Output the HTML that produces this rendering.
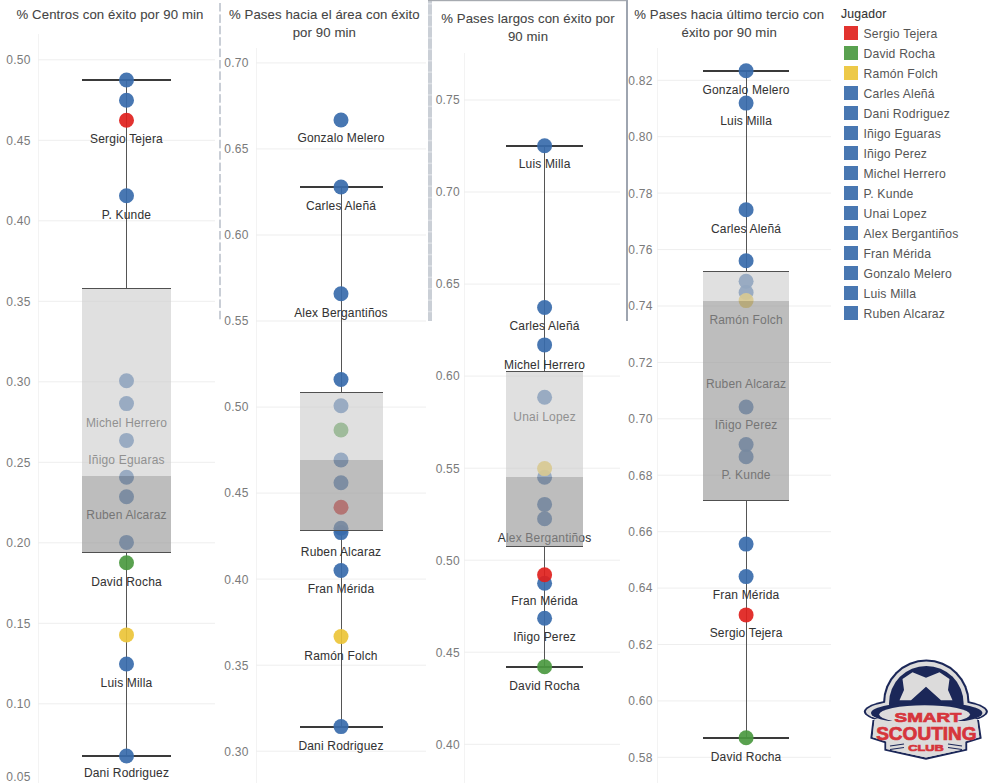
<!DOCTYPE html>
<html><head><meta charset="utf-8"><style>
html,body{margin:0;padding:0;background:#fff;overflow:hidden;}
svg{display:block;font-family:"Liberation Sans", sans-serif;}
</style></head><body>
<svg width="990" height="783" viewBox="0 0 990 783">
<rect width="990" height="783" fill="#fff"/>
<rect x="38" y="34" width="1" height="749" fill="#f3f3f3"/>
<rect x="38" y="59.3" width="177" height="1" fill="#eeeeee"/>
<rect x="38" y="139.8" width="177" height="1" fill="#eeeeee"/>
<rect x="38" y="220.3" width="177" height="1" fill="#eeeeee"/>
<rect x="38" y="300.8" width="177" height="1" fill="#eeeeee"/>
<rect x="38" y="381.3" width="177" height="1" fill="#eeeeee"/>
<rect x="38" y="461.8" width="177" height="1" fill="#eeeeee"/>
<rect x="38" y="542.3" width="177" height="1" fill="#eeeeee"/>
<rect x="38" y="622.8" width="177" height="1" fill="#eeeeee"/>
<rect x="38" y="703.3" width="177" height="1" fill="#eeeeee"/>
<rect x="38" y="783.8" width="177" height="1" fill="#eeeeee"/>
<text x="30.5" y="64.1" font-size="12" fill="#7a7a7a" text-anchor="end" letter-spacing="0.2">0.50</text>
<text x="30.5" y="144.6" font-size="12" fill="#7a7a7a" text-anchor="end" letter-spacing="0.2">0.45</text>
<text x="30.5" y="225.1" font-size="12" fill="#7a7a7a" text-anchor="end" letter-spacing="0.2">0.40</text>
<text x="30.5" y="305.6" font-size="12" fill="#7a7a7a" text-anchor="end" letter-spacing="0.2">0.35</text>
<text x="30.5" y="386.1" font-size="12" fill="#7a7a7a" text-anchor="end" letter-spacing="0.2">0.30</text>
<text x="30.5" y="466.6" font-size="12" fill="#7a7a7a" text-anchor="end" letter-spacing="0.2">0.25</text>
<text x="30.5" y="547.1" font-size="12" fill="#7a7a7a" text-anchor="end" letter-spacing="0.2">0.20</text>
<text x="30.5" y="627.6" font-size="12" fill="#7a7a7a" text-anchor="end" letter-spacing="0.2">0.15</text>
<text x="30.5" y="708.1" font-size="12" fill="#7a7a7a" text-anchor="end" letter-spacing="0.2">0.10</text>
<text x="30.5" y="781.3" font-size="12" fill="#7a7a7a" text-anchor="end" letter-spacing="0.2">0.05</text>
<text x="110.0" y="18.9" font-size="13.2" fill="#444444" text-anchor="middle" letter-spacing="0.1" stroke="#444444" stroke-width="0.08">% Centros con éxito por 90 min</text>
<rect x="126" y="80" width="1" height="208" fill="#555"/>
<rect x="126" y="552" width="1" height="204" fill="#555"/>
<rect x="82" y="79" width="89" height="2" fill="#3a3a3a"/>
<rect x="82" y="755" width="89" height="2" fill="#3a3a3a"/>
<circle cx="126.5" cy="80" r="7.5" fill="#386bab" fill-opacity="0.92"/>
<circle cx="126.5" cy="100.2" r="7.5" fill="#386bab" fill-opacity="0.92"/>
<circle cx="126.5" cy="120.3" r="7.5" fill="#df211d" fill-opacity="0.92"/>
<circle cx="126.5" cy="195.7" r="7.5" fill="#386bab" fill-opacity="0.92"/>
<circle cx="126.5" cy="380.8" r="7.5" fill="#386bab" fill-opacity="0.92"/>
<circle cx="126.5" cy="403.6" r="7.5" fill="#386bab" fill-opacity="0.92"/>
<circle cx="126.5" cy="440.4" r="7.5" fill="#386bab" fill-opacity="0.92"/>
<circle cx="126.5" cy="477.3" r="7.5" fill="#386bab" fill-opacity="0.92"/>
<circle cx="126.5" cy="496.8" r="7.5" fill="#386bab" fill-opacity="0.92"/>
<circle cx="126.5" cy="542.4" r="7.5" fill="#386bab" fill-opacity="0.92"/>
<circle cx="126.5" cy="562.8" r="7.5" fill="#4b9940" fill-opacity="0.92"/>
<circle cx="126.5" cy="634.9" r="7.5" fill="#ebc438" fill-opacity="0.92"/>
<circle cx="126.5" cy="664" r="7.5" fill="#386bab" fill-opacity="0.92"/>
<circle cx="126.5" cy="756" r="7.5" fill="#386bab" fill-opacity="0.92"/>
<text x="126.5" y="142.5" font-size="12" fill="#333333" text-anchor="middle" letter-spacing="0.18" stroke="#333333" stroke-width="0.05">Sergio Tejera</text>
<text x="126.5" y="218.6" font-size="12" fill="#333333" text-anchor="middle" letter-spacing="0.18" stroke="#333333" stroke-width="0.05">P. Kunde</text>
<text x="126.5" y="426.9" font-size="12" fill="#333333" text-anchor="middle" letter-spacing="0.18" stroke="#333333" stroke-width="0.05">Michel Herrero</text>
<text x="126.5" y="463.6" font-size="12" fill="#333333" text-anchor="middle" letter-spacing="0.18" stroke="#333333" stroke-width="0.05">Iñigo Eguaras</text>
<text x="126.5" y="518.8" font-size="12" fill="#333333" text-anchor="middle" letter-spacing="0.18" stroke="#333333" stroke-width="0.05">Ruben Alcaraz</text>
<text x="126.5" y="585.6" font-size="12" fill="#333333" text-anchor="middle" letter-spacing="0.18" stroke="#333333" stroke-width="0.05">David Rocha</text>
<text x="126.5" y="687.1" font-size="12" fill="#333333" text-anchor="middle" letter-spacing="0.18" stroke="#333333" stroke-width="0.05">Luis Milla</text>
<text x="126.5" y="777.3" font-size="12" fill="#333333" text-anchor="middle" letter-spacing="0.18" stroke="#333333" stroke-width="0.05">Dani Rodriguez</text>
<rect x="82" y="288" width="89" height="188" fill="#cccccc" fill-opacity="0.61"/>
<rect x="82" y="476" width="89" height="76" fill="#9a9a9a" fill-opacity="0.65"/>
<rect x="82" y="288" width="89" height="1" fill="#505050"/>
<rect x="82" y="552" width="89" height="1" fill="#505050"/>
<rect x="256" y="48" width="1" height="735" fill="#f3f3f3"/>
<rect x="256" y="62.4" width="170" height="1" fill="#eeeeee"/>
<rect x="256" y="148.4" width="170" height="1" fill="#eeeeee"/>
<rect x="256" y="234.5" width="170" height="1" fill="#eeeeee"/>
<rect x="256" y="320.5" width="170" height="1" fill="#eeeeee"/>
<rect x="256" y="406.6" width="170" height="1" fill="#eeeeee"/>
<rect x="256" y="492.6" width="170" height="1" fill="#eeeeee"/>
<rect x="256" y="578.6" width="170" height="1" fill="#eeeeee"/>
<rect x="256" y="664.7" width="170" height="1" fill="#eeeeee"/>
<rect x="256" y="750.7" width="170" height="1" fill="#eeeeee"/>
<text x="248.5" y="67.2" font-size="12" fill="#7a7a7a" text-anchor="end" letter-spacing="0.2">0.70</text>
<text x="248.5" y="153.3" font-size="12" fill="#7a7a7a" text-anchor="end" letter-spacing="0.2">0.65</text>
<text x="248.5" y="239.3" font-size="12" fill="#7a7a7a" text-anchor="end" letter-spacing="0.2">0.60</text>
<text x="248.5" y="325.3" font-size="12" fill="#7a7a7a" text-anchor="end" letter-spacing="0.2">0.55</text>
<text x="248.5" y="411.4" font-size="12" fill="#7a7a7a" text-anchor="end" letter-spacing="0.2">0.50</text>
<text x="248.5" y="497.4" font-size="12" fill="#7a7a7a" text-anchor="end" letter-spacing="0.2">0.45</text>
<text x="248.5" y="583.5" font-size="12" fill="#7a7a7a" text-anchor="end" letter-spacing="0.2">0.40</text>
<text x="248.5" y="669.5" font-size="12" fill="#7a7a7a" text-anchor="end" letter-spacing="0.2">0.35</text>
<text x="248.5" y="755.5" font-size="12" fill="#7a7a7a" text-anchor="end" letter-spacing="0.2">0.30</text>
<text x="324.3" y="18.5" font-size="13.2" fill="#444444" text-anchor="middle" letter-spacing="0.1" stroke="#444444" stroke-width="0.08">% Pases hacia el área con éxito</text>
<text x="324.3" y="37.0" font-size="13.2" fill="#444444" text-anchor="middle" letter-spacing="0.1" stroke="#444444" stroke-width="0.08">por 90 min</text>
<rect x="341" y="187" width="1" height="205" fill="#555"/>
<rect x="341" y="530" width="1" height="197" fill="#555"/>
<rect x="300" y="186" width="83" height="2" fill="#3a3a3a"/>
<rect x="300" y="726" width="83" height="2" fill="#3a3a3a"/>
<circle cx="341" cy="120" r="7.5" fill="#386bab" fill-opacity="0.92"/>
<circle cx="341" cy="187" r="7.5" fill="#386bab" fill-opacity="0.92"/>
<circle cx="341" cy="293.8" r="7.5" fill="#386bab" fill-opacity="0.92"/>
<circle cx="341" cy="379.5" r="7.5" fill="#386bab" fill-opacity="0.92"/>
<circle cx="341" cy="405.8" r="7.5" fill="#386bab" fill-opacity="0.92"/>
<circle cx="341" cy="430" r="7.5" fill="#4b9940" fill-opacity="0.92"/>
<circle cx="341" cy="460" r="7.5" fill="#386bab" fill-opacity="0.92"/>
<circle cx="341" cy="482.8" r="7.5" fill="#386bab" fill-opacity="0.92"/>
<circle cx="341" cy="507.2" r="7.5" fill="#df211d" fill-opacity="0.92"/>
<circle cx="341" cy="528.2" r="7.5" fill="#386bab" fill-opacity="0.92"/>
<circle cx="341" cy="532.6" r="7.5" fill="#386bab" fill-opacity="0.92"/>
<circle cx="341" cy="570.5" r="7.5" fill="#386bab" fill-opacity="0.92"/>
<circle cx="341" cy="636.6" r="7.5" fill="#ebc438" fill-opacity="0.92"/>
<circle cx="341" cy="726.6" r="7.5" fill="#386bab" fill-opacity="0.92"/>
<text x="341.0" y="141.9" font-size="12" fill="#333333" text-anchor="middle" letter-spacing="0.18" stroke="#333333" stroke-width="0.05">Gonzalo Melero</text>
<text x="341.0" y="209.5" font-size="12" fill="#333333" text-anchor="middle" letter-spacing="0.18" stroke="#333333" stroke-width="0.05">Carles Aleñá</text>
<text x="341.0" y="316.6" font-size="12" fill="#333333" text-anchor="middle" letter-spacing="0.18" stroke="#333333" stroke-width="0.05">Alex Bergantiños</text>
<text x="341.0" y="555.5" font-size="12" fill="#333333" text-anchor="middle" letter-spacing="0.18" stroke="#333333" stroke-width="0.05">Ruben Alcaraz</text>
<text x="341.0" y="592.6" font-size="12" fill="#333333" text-anchor="middle" letter-spacing="0.18" stroke="#333333" stroke-width="0.05">Fran Mérida</text>
<text x="341.0" y="659.9" font-size="12" fill="#333333" text-anchor="middle" letter-spacing="0.18" stroke="#333333" stroke-width="0.05">Ramón Folch</text>
<text x="341.0" y="749.5" font-size="12" fill="#333333" text-anchor="middle" letter-spacing="0.18" stroke="#333333" stroke-width="0.05">Dani Rodriguez</text>
<rect x="300" y="392" width="83" height="68" fill="#cccccc" fill-opacity="0.61"/>
<rect x="300" y="460" width="83" height="70" fill="#9a9a9a" fill-opacity="0.65"/>
<rect x="300" y="392" width="83" height="1" fill="#505050"/>
<rect x="300" y="530" width="83" height="1" fill="#505050"/>
<rect x="464" y="53" width="1" height="730" fill="#f3f3f3"/>
<rect x="464" y="99.5" width="156" height="1" fill="#eeeeee"/>
<rect x="464" y="191.5" width="156" height="1" fill="#eeeeee"/>
<rect x="464" y="283.6" width="156" height="1" fill="#eeeeee"/>
<rect x="464" y="375.6" width="156" height="1" fill="#eeeeee"/>
<rect x="464" y="467.7" width="156" height="1" fill="#eeeeee"/>
<rect x="464" y="559.7" width="156" height="1" fill="#eeeeee"/>
<rect x="464" y="651.7" width="156" height="1" fill="#eeeeee"/>
<rect x="464" y="743.8" width="156" height="1" fill="#eeeeee"/>
<text x="459.8" y="104.3" font-size="12" fill="#7a7a7a" text-anchor="end" letter-spacing="0.2">0.75</text>
<text x="459.8" y="196.4" font-size="12" fill="#7a7a7a" text-anchor="end" letter-spacing="0.2">0.70</text>
<text x="459.8" y="288.4" font-size="12" fill="#7a7a7a" text-anchor="end" letter-spacing="0.2">0.65</text>
<text x="459.8" y="380.4" font-size="12" fill="#7a7a7a" text-anchor="end" letter-spacing="0.2">0.60</text>
<text x="459.8" y="472.5" font-size="12" fill="#7a7a7a" text-anchor="end" letter-spacing="0.2">0.55</text>
<text x="459.8" y="564.5" font-size="12" fill="#7a7a7a" text-anchor="end" letter-spacing="0.2">0.50</text>
<text x="459.8" y="656.6" font-size="12" fill="#7a7a7a" text-anchor="end" letter-spacing="0.2">0.45</text>
<text x="459.8" y="748.6" font-size="12" fill="#7a7a7a" text-anchor="end" letter-spacing="0.2">0.40</text>
<text x="528.0" y="23.0" font-size="13.2" fill="#444444" text-anchor="middle" letter-spacing="0.1" stroke="#444444" stroke-width="0.08">% Pases largos con éxito por</text>
<text x="528.0" y="40.8" font-size="13.2" fill="#444444" text-anchor="middle" letter-spacing="0.1" stroke="#444444" stroke-width="0.08">90 min</text>
<rect x="544" y="146" width="1" height="225" fill="#555"/>
<rect x="544" y="546" width="1" height="121" fill="#555"/>
<rect x="506" y="145" width="77" height="2" fill="#3a3a3a"/>
<rect x="506" y="666" width="77" height="2" fill="#3a3a3a"/>
<circle cx="544.6" cy="145.7" r="7.5" fill="#386bab" fill-opacity="0.92"/>
<circle cx="544.6" cy="307.5" r="7.5" fill="#386bab" fill-opacity="0.92"/>
<circle cx="544.6" cy="344.9" r="7.5" fill="#386bab" fill-opacity="0.92"/>
<circle cx="544.6" cy="397.3" r="7.5" fill="#386bab" fill-opacity="0.92"/>
<circle cx="544.6" cy="477.3" r="7.5" fill="#386bab" fill-opacity="0.92"/>
<circle cx="544.6" cy="468.6" r="7.5" fill="#ebc438" fill-opacity="0.92"/>
<circle cx="544.6" cy="504.4" r="7.5" fill="#386bab" fill-opacity="0.92"/>
<circle cx="544.6" cy="518.8" r="7.5" fill="#386bab" fill-opacity="0.92"/>
<circle cx="544.6" cy="583.2" r="7.5" fill="#386bab" fill-opacity="0.92"/>
<circle cx="544.6" cy="574.8" r="7.5" fill="#df211d" fill-opacity="0.92"/>
<circle cx="544.6" cy="618.3" r="7.5" fill="#386bab" fill-opacity="0.92"/>
<circle cx="544.6" cy="666.7" r="7.5" fill="#4b9940" fill-opacity="0.92"/>
<text x="544.6" y="167.7" font-size="12" fill="#333333" text-anchor="middle" letter-spacing="0.18" stroke="#333333" stroke-width="0.05">Luis Milla</text>
<text x="544.6" y="329.8" font-size="12" fill="#333333" text-anchor="middle" letter-spacing="0.18" stroke="#333333" stroke-width="0.05">Carles Aleñá</text>
<text x="544.6" y="368.6" font-size="12" fill="#333333" text-anchor="middle" letter-spacing="0.18" stroke="#333333" stroke-width="0.05">Michel Herrero</text>
<text x="544.6" y="420.6" font-size="12" fill="#333333" text-anchor="middle" letter-spacing="0.18" stroke="#333333" stroke-width="0.05">Unai Lopez</text>
<text x="544.6" y="542.4" font-size="12" fill="#333333" text-anchor="middle" letter-spacing="0.18" stroke="#333333" stroke-width="0.05">Alex Bergantiños</text>
<text x="544.6" y="604.8" font-size="12" fill="#333333" text-anchor="middle" letter-spacing="0.18" stroke="#333333" stroke-width="0.05">Fran Mérida</text>
<text x="544.6" y="640.6" font-size="12" fill="#333333" text-anchor="middle" letter-spacing="0.18" stroke="#333333" stroke-width="0.05">Iñigo Perez</text>
<text x="544.6" y="689.7" font-size="12" fill="#333333" text-anchor="middle" letter-spacing="0.18" stroke="#333333" stroke-width="0.05">David Rocha</text>
<rect x="506" y="371" width="77" height="106" fill="#cccccc" fill-opacity="0.61"/>
<rect x="506" y="477" width="77" height="69" fill="#9a9a9a" fill-opacity="0.65"/>
<rect x="506" y="371" width="77" height="1" fill="#505050"/>
<rect x="506" y="546" width="77" height="1" fill="#505050"/>
<rect x="657" y="48" width="1" height="735" fill="#f3f3f3"/>
<rect x="657" y="79.8" width="174" height="1" fill="#eeeeee"/>
<rect x="657" y="136.2" width="174" height="1" fill="#eeeeee"/>
<rect x="657" y="192.6" width="174" height="1" fill="#eeeeee"/>
<rect x="657" y="249.1" width="174" height="1" fill="#eeeeee"/>
<rect x="657" y="305.5" width="174" height="1" fill="#eeeeee"/>
<rect x="657" y="361.9" width="174" height="1" fill="#eeeeee"/>
<rect x="657" y="418.3" width="174" height="1" fill="#eeeeee"/>
<rect x="657" y="474.7" width="174" height="1" fill="#eeeeee"/>
<rect x="657" y="531.2" width="174" height="1" fill="#eeeeee"/>
<rect x="657" y="587.6" width="174" height="1" fill="#eeeeee"/>
<rect x="657" y="644.0" width="174" height="1" fill="#eeeeee"/>
<rect x="657" y="700.4" width="174" height="1" fill="#eeeeee"/>
<rect x="657" y="756.8" width="174" height="1" fill="#eeeeee"/>
<text x="652.5" y="84.6" font-size="12" fill="#7a7a7a" text-anchor="end" letter-spacing="0.2">0.82</text>
<text x="652.5" y="141.0" font-size="12" fill="#7a7a7a" text-anchor="end" letter-spacing="0.2">0.80</text>
<text x="652.5" y="197.5" font-size="12" fill="#7a7a7a" text-anchor="end" letter-spacing="0.2">0.78</text>
<text x="652.5" y="253.9" font-size="12" fill="#7a7a7a" text-anchor="end" letter-spacing="0.2">0.76</text>
<text x="652.5" y="310.3" font-size="12" fill="#7a7a7a" text-anchor="end" letter-spacing="0.2">0.74</text>
<text x="652.5" y="366.7" font-size="12" fill="#7a7a7a" text-anchor="end" letter-spacing="0.2">0.72</text>
<text x="652.5" y="423.1" font-size="12" fill="#7a7a7a" text-anchor="end" letter-spacing="0.2">0.70</text>
<text x="652.5" y="479.6" font-size="12" fill="#7a7a7a" text-anchor="end" letter-spacing="0.2">0.68</text>
<text x="652.5" y="536.0" font-size="12" fill="#7a7a7a" text-anchor="end" letter-spacing="0.2">0.66</text>
<text x="652.5" y="592.4" font-size="12" fill="#7a7a7a" text-anchor="end" letter-spacing="0.2">0.64</text>
<text x="652.5" y="648.8" font-size="12" fill="#7a7a7a" text-anchor="end" letter-spacing="0.2">0.62</text>
<text x="652.5" y="705.2" font-size="12" fill="#7a7a7a" text-anchor="end" letter-spacing="0.2">0.60</text>
<text x="652.5" y="761.7" font-size="12" fill="#7a7a7a" text-anchor="end" letter-spacing="0.2">0.58</text>
<text x="729.2" y="18.9" font-size="13.2" fill="#444444" text-anchor="middle" letter-spacing="0.1" stroke="#444444" stroke-width="0.08">% Pases hacia último tercio con</text>
<text x="729.2" y="36.7" font-size="13.2" fill="#444444" text-anchor="middle" letter-spacing="0.1" stroke="#444444" stroke-width="0.08">éxito por 90 min</text>
<rect x="746" y="71" width="1" height="200" fill="#555"/>
<rect x="746" y="500" width="1" height="238" fill="#555"/>
<rect x="703" y="70" width="86" height="2" fill="#3a3a3a"/>
<rect x="703" y="737" width="86" height="2" fill="#3a3a3a"/>
<circle cx="746.1" cy="70.8" r="7.5" fill="#386bab" fill-opacity="0.92"/>
<circle cx="746.1" cy="103.1" r="7.5" fill="#386bab" fill-opacity="0.92"/>
<circle cx="746.1" cy="209.7" r="7.5" fill="#386bab" fill-opacity="0.92"/>
<circle cx="746.1" cy="260.8" r="7.5" fill="#386bab" fill-opacity="0.92"/>
<circle cx="746.1" cy="281.3" r="7.5" fill="#386bab" fill-opacity="0.92"/>
<circle cx="746.1" cy="292.5" r="7.5" fill="#386bab" fill-opacity="0.92"/>
<circle cx="746.1" cy="300.6" r="7.5" fill="#ebc438" fill-opacity="0.92"/>
<circle cx="746.1" cy="407" r="7.5" fill="#386bab" fill-opacity="0.92"/>
<circle cx="746.1" cy="444.6" r="7.5" fill="#386bab" fill-opacity="0.92"/>
<circle cx="746.1" cy="456.7" r="7.5" fill="#386bab" fill-opacity="0.92"/>
<circle cx="746.1" cy="544.1" r="7.5" fill="#386bab" fill-opacity="0.92"/>
<circle cx="746.1" cy="576.6" r="7.5" fill="#386bab" fill-opacity="0.92"/>
<circle cx="746.1" cy="614.9" r="7.5" fill="#df211d" fill-opacity="0.92"/>
<circle cx="746.1" cy="737.8" r="7.5" fill="#4b9940" fill-opacity="0.92"/>
<text x="746.1" y="93.6" font-size="12" fill="#333333" text-anchor="middle" letter-spacing="0.18" stroke="#333333" stroke-width="0.05">Gonzalo Melero</text>
<text x="746.1" y="124.8" font-size="12" fill="#333333" text-anchor="middle" letter-spacing="0.18" stroke="#333333" stroke-width="0.05">Luis Milla</text>
<text x="746.1" y="232.6" font-size="12" fill="#333333" text-anchor="middle" letter-spacing="0.18" stroke="#333333" stroke-width="0.05">Carles Aleñá</text>
<text x="746.1" y="323.7" font-size="12" fill="#333333" text-anchor="middle" letter-spacing="0.18" stroke="#333333" stroke-width="0.05">Ramón Folch</text>
<text x="746.1" y="388.3" font-size="12" fill="#333333" text-anchor="middle" letter-spacing="0.18" stroke="#333333" stroke-width="0.05">Ruben Alcaraz</text>
<text x="746.1" y="428.6" font-size="12" fill="#333333" text-anchor="middle" letter-spacing="0.18" stroke="#333333" stroke-width="0.05">Iñigo Perez</text>
<text x="746.1" y="479.3" font-size="12" fill="#333333" text-anchor="middle" letter-spacing="0.18" stroke="#333333" stroke-width="0.05">P. Kunde</text>
<text x="746.1" y="598.5" font-size="12" fill="#333333" text-anchor="middle" letter-spacing="0.18" stroke="#333333" stroke-width="0.05">Fran Mérida</text>
<text x="746.1" y="637.3" font-size="12" fill="#333333" text-anchor="middle" letter-spacing="0.18" stroke="#333333" stroke-width="0.05">Sergio Tejera</text>
<text x="746.1" y="760.6" font-size="12" fill="#333333" text-anchor="middle" letter-spacing="0.18" stroke="#333333" stroke-width="0.05">David Rocha</text>
<rect x="703" y="271" width="86" height="30" fill="#cccccc" fill-opacity="0.61"/>
<rect x="703" y="301" width="86" height="199" fill="#9a9a9a" fill-opacity="0.65"/>
<rect x="703" y="271" width="86" height="1" fill="#505050"/>
<rect x="703" y="500" width="86" height="1" fill="#505050"/>
<rect x="219" y="3.0" width="2" height="8.5" fill="#c9ced6"/>
<rect x="219" y="14.4" width="2" height="8.5" fill="#c9ced6"/>
<rect x="219" y="25.8" width="2" height="8.5" fill="#c9ced6"/>
<rect x="219" y="37.2" width="2" height="8.5" fill="#c9ced6"/>
<rect x="219" y="48.6" width="2" height="8.5" fill="#c9ced6"/>
<rect x="219" y="60.0" width="2" height="8.5" fill="#c9ced6"/>
<rect x="219" y="71.4" width="2" height="8.5" fill="#c9ced6"/>
<rect x="219" y="82.8" width="2" height="8.5" fill="#c9ced6"/>
<rect x="219" y="94.2" width="2" height="8.5" fill="#c9ced6"/>
<rect x="219" y="105.6" width="2" height="8.5" fill="#c9ced6"/>
<rect x="219" y="117.0" width="2" height="8.5" fill="#c9ced6"/>
<rect x="219" y="128.4" width="2" height="8.5" fill="#c9ced6"/>
<rect x="219" y="139.8" width="2" height="8.5" fill="#c9ced6"/>
<rect x="219" y="151.2" width="2" height="8.5" fill="#c9ced6"/>
<rect x="219" y="162.6" width="2" height="8.5" fill="#c9ced6"/>
<rect x="219" y="174.0" width="2" height="8.5" fill="#c9ced6"/>
<rect x="219" y="185.4" width="2" height="8.5" fill="#c9ced6"/>
<rect x="219" y="196.8" width="2" height="8.5" fill="#c9ced6"/>
<rect x="219" y="208.2" width="2" height="8.5" fill="#c9ced6"/>
<rect x="219" y="219.6" width="2" height="8.5" fill="#c9ced6"/>
<rect x="219" y="231.0" width="2" height="8.5" fill="#c9ced6"/>
<rect x="219" y="242.4" width="2" height="8.5" fill="#c9ced6"/>
<rect x="219" y="253.8" width="2" height="8.5" fill="#c9ced6"/>
<rect x="219" y="265.2" width="2" height="8.5" fill="#c9ced6"/>
<rect x="219" y="276.6" width="2" height="8.5" fill="#c9ced6"/>
<rect x="219" y="288.0" width="2" height="8.5" fill="#c9ced6"/>
<rect x="219" y="299.4" width="2" height="8.5" fill="#c9ced6"/>
<rect x="219" y="310.8" width="2" height="8.5" fill="#c9ced6"/>
<rect x="428" y="0" width="4" height="321" fill="#cacfd6"/>
<rect x="428" y="3.0" width="4" height="1.5" fill="#dde0e5"/>
<rect x="428" y="14.4" width="4" height="1.5" fill="#dde0e5"/>
<rect x="428" y="25.8" width="4" height="1.5" fill="#dde0e5"/>
<rect x="428" y="37.2" width="4" height="1.5" fill="#dde0e5"/>
<rect x="428" y="48.6" width="4" height="1.5" fill="#dde0e5"/>
<rect x="428" y="60.0" width="4" height="1.5" fill="#dde0e5"/>
<rect x="428" y="71.4" width="4" height="1.5" fill="#dde0e5"/>
<rect x="428" y="82.8" width="4" height="1.5" fill="#dde0e5"/>
<rect x="428" y="94.2" width="4" height="1.5" fill="#dde0e5"/>
<rect x="428" y="105.6" width="4" height="1.5" fill="#dde0e5"/>
<rect x="428" y="117.0" width="4" height="1.5" fill="#dde0e5"/>
<rect x="428" y="128.4" width="4" height="1.5" fill="#dde0e5"/>
<rect x="428" y="139.8" width="4" height="1.5" fill="#dde0e5"/>
<rect x="428" y="151.2" width="4" height="1.5" fill="#dde0e5"/>
<rect x="428" y="162.6" width="4" height="1.5" fill="#dde0e5"/>
<rect x="428" y="174.0" width="4" height="1.5" fill="#dde0e5"/>
<rect x="428" y="185.4" width="4" height="1.5" fill="#dde0e5"/>
<rect x="428" y="196.8" width="4" height="1.5" fill="#dde0e5"/>
<rect x="428" y="208.2" width="4" height="1.5" fill="#dde0e5"/>
<rect x="428" y="219.6" width="4" height="1.5" fill="#dde0e5"/>
<rect x="428" y="231.0" width="4" height="1.5" fill="#dde0e5"/>
<rect x="428" y="242.4" width="4" height="1.5" fill="#dde0e5"/>
<rect x="428" y="253.8" width="4" height="1.5" fill="#dde0e5"/>
<rect x="428" y="265.2" width="4" height="1.5" fill="#dde0e5"/>
<rect x="428" y="276.6" width="4" height="1.5" fill="#dde0e5"/>
<rect x="428" y="288.0" width="4" height="1.5" fill="#dde0e5"/>
<rect x="428" y="299.4" width="4" height="1.5" fill="#dde0e5"/>
<rect x="428" y="310.8" width="4" height="1.5" fill="#dde0e5"/>
<rect x="428" y="0" width="200" height="1.2" fill="#a6aab0"/>
<rect x="626" y="0" width="2" height="321" fill="#9ea5b0"/>
<text x="841.0" y="18.0" font-size="12.2" fill="#333" text-anchor="start" letter-spacing="0.2" stroke="#333" stroke-width="0.1">Jugador</text>
<rect x="844" y="26" width="14" height="14" fill="#e2332f"/>
<text x="863.5" y="37.6" font-size="12.2" fill="#555" text-anchor="start" letter-spacing="0.18">Sergio Tejera</text>
<rect x="844" y="46" width="14" height="14" fill="#59a14f"/>
<text x="863.5" y="57.6" font-size="12.2" fill="#555" text-anchor="start" letter-spacing="0.18">David Rocha</text>
<rect x="844" y="66" width="14" height="14" fill="#edc948"/>
<text x="863.5" y="77.6" font-size="12.2" fill="#555" text-anchor="start" letter-spacing="0.18">Ramón Folch</text>
<rect x="844" y="86" width="14" height="14" fill="#4877b2"/>
<text x="863.5" y="97.6" font-size="12.2" fill="#555" text-anchor="start" letter-spacing="0.18">Carles Aleñá</text>
<rect x="844" y="106" width="14" height="14" fill="#4877b2"/>
<text x="863.5" y="117.6" font-size="12.2" fill="#555" text-anchor="start" letter-spacing="0.18">Dani Rodriguez</text>
<rect x="844" y="126" width="14" height="14" fill="#4877b2"/>
<text x="863.5" y="137.6" font-size="12.2" fill="#555" text-anchor="start" letter-spacing="0.18">Iñigo Eguaras</text>
<rect x="844" y="146" width="14" height="14" fill="#4877b2"/>
<text x="863.5" y="157.6" font-size="12.2" fill="#555" text-anchor="start" letter-spacing="0.18">Iñigo Perez</text>
<rect x="844" y="166" width="14" height="14" fill="#4877b2"/>
<text x="863.5" y="177.6" font-size="12.2" fill="#555" text-anchor="start" letter-spacing="0.18">Michel Herrero</text>
<rect x="844" y="186" width="14" height="14" fill="#4877b2"/>
<text x="863.5" y="197.6" font-size="12.2" fill="#555" text-anchor="start" letter-spacing="0.18">P. Kunde</text>
<rect x="844" y="206" width="14" height="14" fill="#4877b2"/>
<text x="863.5" y="217.6" font-size="12.2" fill="#555" text-anchor="start" letter-spacing="0.18">Unai Lopez</text>
<rect x="844" y="226" width="14" height="14" fill="#4877b2"/>
<text x="863.5" y="237.6" font-size="12.2" fill="#555" text-anchor="start" letter-spacing="0.18">Alex Bergantiños</text>
<rect x="844" y="246" width="14" height="14" fill="#4877b2"/>
<text x="863.5" y="257.6" font-size="12.2" fill="#555" text-anchor="start" letter-spacing="0.18">Fran Mérida</text>
<rect x="844" y="266" width="14" height="14" fill="#4877b2"/>
<text x="863.5" y="277.6" font-size="12.2" fill="#555" text-anchor="start" letter-spacing="0.18">Gonzalo Melero</text>
<rect x="844" y="286" width="14" height="14" fill="#4877b2"/>
<text x="863.5" y="297.6" font-size="12.2" fill="#555" text-anchor="start" letter-spacing="0.18">Luis Milla</text>
<rect x="844" y="306" width="14" height="14" fill="#4877b2"/>
<text x="863.5" y="317.6" font-size="12.2" fill="#555" text-anchor="start" letter-spacing="0.18">Ruben Alcaraz</text>
<g id="logo">
<defs>
<clipPath id="domeclip"><rect x="860" y="650" width="130" height="57"/></clipPath>
</defs>
<g fill="#1b2758">
 <circle cx="926.3" cy="702.8" r="43.3" clip-path="url(#domeclip)"/>
 <ellipse cx="925.85" cy="711.6" rx="62" ry="14.2"/>
 <polygon points="872.5,720 979,720 981.7,738.6 967.2,743 967.2,750.6 926,759.7 884.4,750.6 884.4,743 870.3,738.6"/>
</g>
<g fill="#dcdbdb">
 <circle cx="926.3" cy="702.8" r="41.2" clip-path="url(#domeclip)"/>
 <ellipse cx="925.85" cy="711.6" rx="59.9" ry="12.2"/>
 <polygon points="874.5,719 977,719 979.4,737.2 965.2,741.5 965.2,749 926,757.6 886.4,749 886.4,741.5 872.6,737.2"/>
</g>
<g fill="#1b2758">
 <circle cx="926.3" cy="703.2" r="37.3" clip-path="url(#domeclip)"/>
 <ellipse cx="926.7" cy="713" rx="55.7" ry="11"/>
</g>
<ellipse cx="924.6" cy="714.5" rx="45.4" ry="9.2" fill="#dcdbdb"/>
<polygon fill="#dcdbdb" points="874.5,720.9 977,720.9 979.4,737.2 965.2,741.5 965.2,749 926,757.6 886.4,749 886.4,741.5 872.6,737.2"/>
<polygon fill="#dcdbdb" points="902.5,679 912.5,672.3 926,677.8 939.5,672.3 949.5,679 948,690 952.5,700.3 941,700.3 926,686.8 911,700.3 899.5,700.3 904,690"/>
<g fill="#d6353c" stroke="#d6353c" stroke-width="0.7" font-family="Liberation Sans, sans-serif" font-weight="bold" text-anchor="middle">
 <text x="928.1" y="722.3" font-size="13.7" textLength="67" lengthAdjust="spacingAndGlyphs">SMART</text>
 <text x="926.4" y="739.7" font-size="17.6" textLength="100.5" lengthAdjust="spacingAndGlyphs">SCOUTING</text>
 <text x="926" y="751.1" font-size="9.9" textLength="35.5" lengthAdjust="spacingAndGlyphs">CLUB</text>
</g>
<g stroke="#1b2758" stroke-width="1.2">
 <line x1="890" y1="746" x2="904" y2="744"/>
 <line x1="890" y1="749.5" x2="904" y2="747.5"/>
 <line x1="948" y1="744" x2="962" y2="746"/>
 <line x1="948" y1="747.5" x2="962" y2="749.5"/>
</g>
</g>

</svg>
</body></html>
